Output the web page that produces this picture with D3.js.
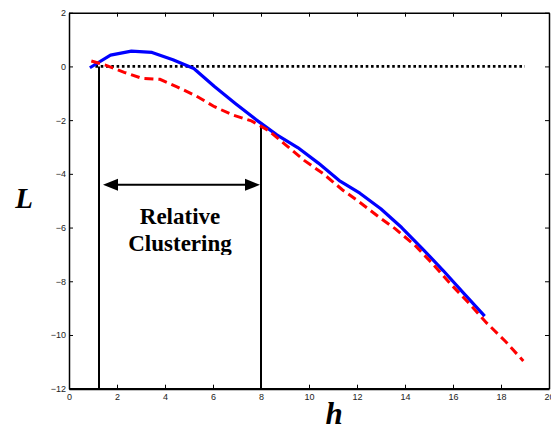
<!DOCTYPE html>
<html>
<head>
<meta charset="utf-8">
<script src="https://cdn.jsdelivr.net/npm/d3@7"></script>
<style>
  html, body { margin: 0; padding: 0; background: #fff; }
  svg { display: block; }
</style>
</head>
<body>
<div id="chart"></div>
<script>
// ---- data ----
const xTicks = [0, 2, 4, 6, 8, 10, 12, 14, 16, 18, 20];
const yTicks = [2, 0, -2, -4, -6, -8, -10, -12];

const blueH = [0.87, 1.73, 2.6, 3.46, 4.33, 5.2, 6.06, 6.93, 7.79, 8.66, 9.53, 10.39, 11.26, 12.12, 12.99, 13.86, 14.72, 15.59, 16.45, 17.32];
const blueL = [-0.05, 0.42, 0.57, 0.52, 0.25, -0.08, -0.75, -1.38, -1.98, -2.55, -3.02, -3.6, -4.25, -4.72, -5.3, -6.0, -6.78, -7.6, -8.45, -9.3];

const redH = [0.93, 1.55, 2.3, 3.03, 3.79, 4.5, 5.3, 6.06, 6.8, 7.6, 8.3, 9.0, 9.8, 10.6, 11.4, 12.1, 12.9, 13.6, 14.4, 15.1, 15.9, 16.7, 17.4, 18.2, 18.93];
const redL = [0.2, 0.04, -0.22, -0.44, -0.48, -0.76, -1.1, -1.5, -1.8, -2.03, -2.38, -2.9, -3.5, -4.0, -4.6, -5.05, -5.6, -6.05, -6.65, -7.3, -8.1, -8.85, -9.55, -10.25, -10.97];

const zeroLineH = [1.1, 19.0];
const markerH = [1.25, 8.0];
const markerTopL = [0.0, -2.2];
const arrowL = -4.41;
const annotation = ["Relative", "Clustering"];
const xLabel = "h";
const yLabel = "L";

// ---- layout ----
const W = 551, H = 431;
const x = d3.scaleLinear().domain([0, 20]).range([69, 549]);
const y = d3.scaleLinear().domain([-12, 2]).range([388.7, 12.7]);

const svg = d3.select("#chart").append("svg")
  .attr("width", W).attr("height", H)
  .attr("font-family", "Arial, 'Liberation Sans', sans-serif");

const axFont = 9;
const gBottom = svg.append("g").attr("transform", `translate(0,${y(-12)})`)
  .call(d3.axisBottom(x).tickValues(xTicks).tickSizeInner(-4).tickSizeOuter(0).tickPadding(5).tickFormat(d3.format("d")));
const gTop = svg.append("g").attr("transform", `translate(0,${y(2)})`)
  .call(d3.axisTop(x).tickValues(xTicks).tickSizeInner(-4).tickSizeOuter(0).tickFormat(""));
const gLeft = svg.append("g").attr("transform", `translate(${x(0)},0)`)
  .call(d3.axisLeft(y).tickValues(yTicks).tickSizeInner(-4).tickSizeOuter(0).tickPadding(3).tickFormat(d3.format("d")));
const gRight = svg.append("g").attr("transform", `translate(${x(20)},0)`)
  .call(d3.axisRight(y).tickValues(yTicks).tickSizeInner(-4).tickSizeOuter(0).tickFormat(""));

[gBottom, gTop, gLeft, gRight].forEach(g => {
  g.select(".domain").attr("stroke", "#000").attr("stroke-width", 1.5);
  g.selectAll(".tick line").attr("stroke", "#000").attr("stroke-width", 1);
  g.selectAll(".tick text").attr("font-size", axFont).attr("fill", "#222")
    .attr("font-family", "Arial, 'Liberation Sans', sans-serif");
});
gBottom.select(".domain").attr("stroke-width", 2.2);

// zero dotted line
svg.append("line")
  .attr("x1", x(zeroLineH[0])).attr("x2", x(zeroLineH[1]))
  .attr("y1", y(0)).attr("y2", y(0))
  .attr("stroke", "#000").attr("stroke-width", 2.6)
  .attr("stroke-dasharray", "2.6,2.7");

// vertical marker lines
markerH.forEach((h, i) => {
  svg.append("line")
    .attr("x1", x(h)).attr("x2", x(h))
    .attr("y1", y(-12)).attr("y2", y(markerTopL[i]))
    .attr("stroke", "#000").attr("stroke-width", 2);
});

// curves
const line = d3.line().x(d => x(d[0])).y(d => y(d[1]));
svg.append("path")
  .datum(blueH.map((h, i) => [h, blueL[i]]))
  .attr("d", line).attr("fill", "none")
  .attr("stroke", "#0000ff").attr("stroke-width", 3.2)
  .attr("stroke-linejoin", "round");
svg.append("path")
  .datum(redH.map((h, i) => [h, redL[i]]))
  .attr("d", line).attr("fill", "none")
  .attr("stroke", "#ff0000").attr("stroke-width", 3)
  .attr("stroke-dasharray", "9,5");

// double arrow
const ax1 = x(markerH[0]) + 4, ax2 = x(markerH[1]) - 1, ay = y(arrowL);
svg.append("line")
  .attr("x1", ax1 + 10).attr("x2", ax2 - 10)
  .attr("y1", ay).attr("y2", ay)
  .attr("stroke", "#000").attr("stroke-width", 2);
svg.append("path")
  .attr("d", `M${ax1},${ay} L${ax1 + 15},${ay - 6} L${ax1 + 15},${ay + 6} Z`)
  .attr("fill", "#000");
svg.append("path")
  .attr("d", `M${ax2},${ay} L${ax2 - 15},${ay - 6} L${ax2 - 15},${ay + 6} Z`)
  .attr("fill", "#000");

// annotation text (clipped at bottom as in original)
svg.append("clipPath").attr("id", "txtclip")
  .append("rect").attr("x", 0).attr("y", 0).attr("width", W).attr("height", 255);
const tg = svg.append("g").attr("clip-path", "url(#txtclip)");
const cx = (x(markerH[0]) + x(markerH[1])) / 2;
tg.selectAll("text.ann").data(annotation).join("text")
  .attr("class", "ann")
  .attr("x", cx)
  .attr("y", (d, i) => 224 + i * 27)
  .attr("text-anchor", "middle")
  .attr("font-family", "'Liberation Serif', 'Times New Roman', serif")
  .attr("font-weight", "bold")
  .attr("font-size", 23)
  .text(d => d);

// axis labels
svg.append("text")
  .attr("x", 334).attr("y", 424)
  .attr("text-anchor", "middle")
  .attr("font-family", "'Liberation Serif', 'Times New Roman', serif")
  .attr("font-weight", "bold").attr("font-style", "italic")
  .attr("font-size", 31)
  .text(xLabel);
svg.append("text")
  .attr("x", 24).attr("y", 208)
  .attr("text-anchor", "middle")
  .attr("font-family", "'Liberation Serif', 'Times New Roman', serif")
  .attr("font-weight", "bold").attr("font-style", "italic")
  .attr("font-size", 29)
  .text(yLabel);
</script>
</body>
</html>
